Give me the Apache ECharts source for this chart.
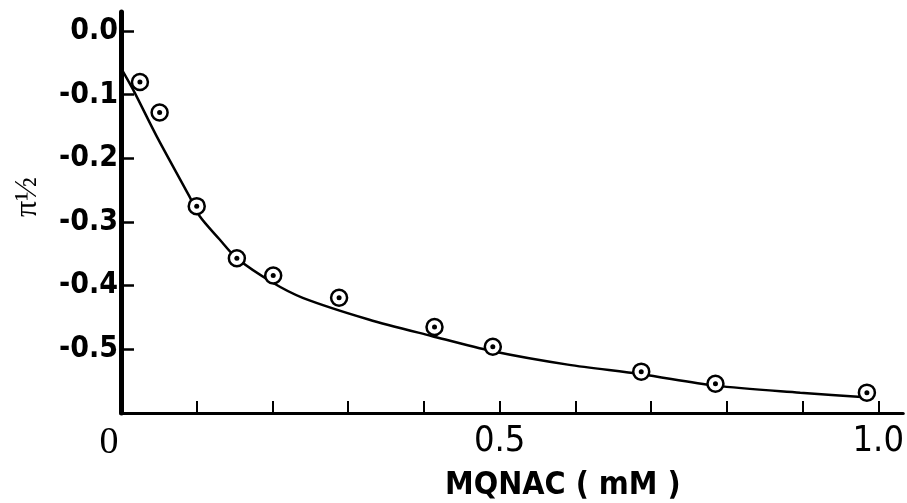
<!DOCTYPE html>
<html>
<head>
<meta charset="utf-8">
<script src="https://cdn.jsdelivr.net/npm/echarts@6/dist/echarts.min.js"></script>
<style>
    html, body { margin: 0; padding: 0; background: #fff; }
    #chart { width: 907px; height: 503px; }
</style>
</head>
<body>
<div id="chart"></div>
<script>
// measured points (MQNAC mM, pi 1/2)
const pointX = [0.025, 0.051, 0.1, 0.153, 0.201, 0.288, 0.414, 0.491, 0.687, 0.785, 0.985];
const pointY = [-0.080, -0.128, -0.275, -0.357, -0.384, -0.419, -0.465, -0.496, -0.535, -0.554, -0.568];

// fitted curve
const curveX = [0, 0.016, 0.047, 0.09, 0.104, 0.13, 0.153, 0.2, 0.24, 0.327, 0.41, 0.491, 0.59, 0.687, 0.785, 0.897, 0.993];
const curveY = [-0.058, -0.092, -0.165, -0.259, -0.291, -0.327, -0.357, -0.395, -0.419, -0.453, -0.479, -0.503, -0.524, -0.539, -0.557, -0.568, -0.576];

const xTicks = [0.1, 0.2, 0.3, 0.4, 0.5, 0.6, 0.7, 0.8, 0.9, 1.0];
const xLabels = [0, 0.5, 1.0];
const yTicks = [-0.5, -0.4, -0.3, -0.2, -0.1, 0];

const points = pointX.map((x, i) => [x, pointY[i]]);
const curve = curveX.map((x, i) => [x, curveY[i]]);

const chart = echarts.init(document.getElementById("chart"));

chart.setOption({
    animation: false,
    backgroundColor: "#fff",
    grid: { left: 121, right: 0, top: 12, bottom: 90 },
    xAxis: {
        type: "value",
        min: 0,
        max: 1.033,
        splitLine: { show: false },
        axisLine: { onZero: false, lineStyle: { color: "#000", width: 3 } },
        axisTick: {
            inside: true,
            length: 12,
            customValues: xTicks,
            lineStyle: { color: "#000", width: 2 }
        },
        axisLabel: {
            customValues: xLabels,
            margin: 11,
            color: "#000",
            fontSize: 36,
            fontFamily: "'Liberation Sans Narrow', 'DejaVu Sans Condensed', sans-serif",
            formatter: (v) => v === 0 ? "{z|0}" : v.toFixed(1),
            rich: {
                z: { fontFamily: "'Liberation Serif', serif", fontSize: 38, color: "#000", padding: [0, 24, 0, 0] }
            }
        }
    },
    yAxis: {
        type: "value",
        min: -0.6,
        max: 0.03,
        splitLine: { show: false },
        axisLine: { onZero: false, lineStyle: { color: "#000", width: 5 } },
        axisTick: {
            inside: true,
            length: 13,
            customValues: yTicks,
            lineStyle: { color: "#000", width: 2.5 }
        },
        axisLabel: {
            customValues: yTicks,
            margin: 3,
            color: "#000",
            fontSize: 30,
            fontWeight: "bold",
            fontFamily: "'DejaVu Sans Condensed', 'DejaVu Sans', sans-serif",
            formatter: (v) => v.toFixed(1)
        }
    },
    graphic: [
        {
            type: "text",
            left: 445,
            top: 470,
            style: {
                text: "MQNAC ( mM )",
                fontSize: 32,
                fontWeight: "bold",
                fontFamily: "'DejaVu Sans Condensed', 'DejaVu Sans', sans-serif",
                fill: "#000"
            }
        },
        {
            type: "text",
            x: 28,
            y: 197,
            rotation: Math.PI / 2,
            style: {
                text: "π½",
                fontSize: 32,
                fontFamily: "'Liberation Serif', serif",
                fill: "#000",
                align: "center",
                verticalAlign: "middle"
            }
        }
    ],
    series: [
        {
            type: "line",
            data: curve,
            smooth: 0.3,
            showSymbol: false,
            lineStyle: { color: "#000", width: 2.5 },
            z: 2
        },
        {
            type: "scatter",
            data: points,
            symbol: "circle",
            symbolSize: 16,
            itemStyle: { color: "#fff", borderColor: "#000", borderWidth: 2.5, opacity: 1 },
            z: 3
        },
        {
            type: "scatter",
            data: points,
            symbol: "circle",
            symbolSize: 5,
            itemStyle: { color: "#000", opacity: 1 },
            z: 4
        }
    ]
});
</script>
</body>
</html>
